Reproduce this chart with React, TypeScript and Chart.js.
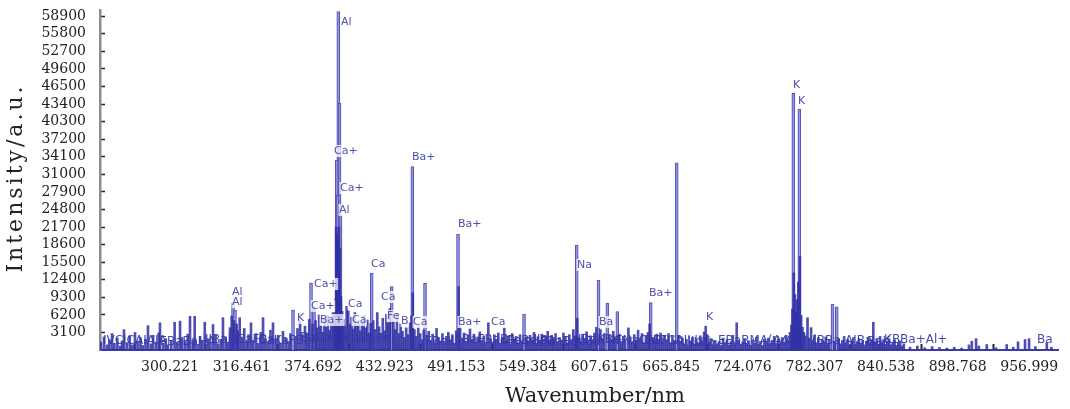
import React, { useEffect, useRef } from "react";
import { Chart, registerables } from "chart.js";

Chart.register(...registerables);

// x axis (nm) tick positions and the tick texts printed in the figure
const xTickValues = [258.23, 316.461, 374.692, 432.923, 491.153, 549.384, 607.615, 665.845, 724.076, 782.307, 840.538, 898.768, 956.999];
const xTickLabels = ["300.221", "316.461", "374.692", "432.923", "491.153", "549.384", "607.615", "665.845", "724.076", "782.307", "840.538", "898.768", "956.999"];
const yTickValues = [3100, 6200, 9300, 12400, 15500, 18600, 21700, 24800, 27900, 31000, 34100, 37200, 40300, 43400, 46500, 49600, 52700, 55800, 58900];

// strong emission lines [wavelength nm, intensity]
const majorLines: [number, number][] = [
  [395.11, 59700], [396.08, 43590], [393.81, 33530], [394.46, 27350], [396.9, 23820],
  [455.29, 32350], [492.46, 20470], [670.33, 33050], [765.16, 45300], [770.04, 42480],
  [589.0, 18530], [422.27, 13590], [465.62, 11770], [606.73, 12350], [372.91, 11820],
  [438.54, 11170], [613.89, 8240], [649.18, 8350], [622.02, 6760], [797.04, 8120],
  [800.46, 7640], [309.47, 8290], [311.09, 7060], [358.27, 7060], [546.14, 6350], [375.35, 7640],
];

// weaker lines, UV part
const minorLinesUV: [number, number][] = [
  [202.0, 1400], [204.5, 2300], [206.8, 900], [208.9, 1800], [211.1, 2900], [213.0, 1200], [215.4, 2100], [217.6, 700],
  [219.2, 1600], [220.8, 3600], [223.1, 1300], [225.5, 2500], [227.4, 900], [229.8, 3100], [231.9, 1500], [234.2, 2200],
  [236.0, 800], [238.3, 1900], [240.3, 4300], [242.6, 1100], [244.5, 2600], [246.9, 1400], [249.0, 3000], [250.1, 4800],
  [252.7, 1200], [254.8, 2000], [256.6, 900], [259.3, 1700], [262.0, 4900], [264.2, 1300], [266.4, 5100], [268.1, 2200],
  [270.4, 1500], [272.6, 2800], [274.5, 5950], [276.8, 1800], [278.3, 5950], [280.6, 1000], [282.7, 2400], [284.5, 1600],
  [286.5, 4900], [288.9, 2000], [291.0, 1300], [293.2, 4500], [295.3, 2600], [297.4, 1100], [299.5, 1900], [301.3, 5700],
  [303.5, 2300], [305.3, 1400], [307.0, 3950], [308.4, 6000], [310.3, 5200], [312.4, 4600], [313.3, 3400], [314.9, 5700],
  [316.8, 2300], [318.6, 3800], [320.5, 1500], [322.1, 2700], [324.1, 4800], [326.0, 1700], [328.2, 2900], [330.1, 1200],
  [332.0, 3100], [333.9, 5700], [335.8, 2000], [337.7, 1400], [339.9, 3500], [342.0, 4800], [344.1, 1900], [346.2, 2600],
  [348.0, 1200], [350.1, 3300], [352.3, 2100], [354.6, 1500], [356.2, 2900], [360.1, 2400], [361.9, 3800], [364.0, 5100],
  [366.0, 2700], [368.0, 4200], [369.8, 3000], [371.5, 5400], [374.1, 4600], [376.6, 5200], [378.0, 3900], [379.5, 6200],
  [381.0, 4400], [382.4, 3100], [383.8, 5600], [385.1, 4000], [386.6, 6100], [388.0, 3500], [389.4, 5000], [390.8, 6600],
  [392.0, 5800], [392.9, 9000],
];

// weaker lines, visible part
const minorLinesVis: [number, number][] = [
  [393.3, 21700], [394.0, 20500], [394.9, 19800], [395.6, 21700], [396.4, 18000], [397.3, 9400], [398.2, 6800], [399.1, 5400],
  [400.3, 4200], [401.9, 7700], [403.2, 6900], [404.5, 4600], [405.9, 5800], [407.2, 3700], [408.6, 6600], [410.0, 4300],
  [411.4, 5200], [412.9, 3400], [414.3, 4900], [415.8, 6100], [417.2, 3900], [418.7, 5300], [420.2, 3000], [421.4, 4700],
  [423.5, 5200], [425.0, 3600], [426.8, 6600], [428.3, 4100], [429.8, 2900], [431.3, 5600], [432.8, 3400], [434.2, 6300],
  [435.7, 4800], [437.0, 7300], [439.9, 5100], [441.3, 3600], [442.8, 6500], [444.3, 2900], [445.8, 4600], [447.3, 3300],
  [448.8, 2200], [450.3, 3900], [451.8, 2700], [453.4, 4800], [454.6, 6000], [455.7, 10100], [457.0, 3600], [458.6, 2400],
  [460.1, 4200], [461.7, 2900], [463.3, 1800], [464.6, 3500], [467.0, 2600], [468.6, 3300], [470.2, 1700], [471.8, 2800],
  [473.4, 1400], [475.0, 3800], [476.6, 2200], [478.2, 1600], [479.8, 2900], [481.4, 1300], [483.0, 2400], [484.6, 3100],
  [486.2, 1800], [487.8, 2700], [489.4, 1200], [491.0, 3400], [492.9, 11200], [494.2, 4100], [495.8, 2100], [497.4, 3000],
  [499.0, 1500], [500.6, 2600], [502.2, 3700], [503.8, 1900], [505.4, 2800], [507.0, 1400], [508.6, 2300], [510.2, 3200],
  [511.8, 1700], [513.4, 2500], [515.0, 1300], [517.1, 4800], [518.8, 2000], [520.4, 1400], [522.0, 2700], [523.6, 1800],
  [525.2, 3000], [526.8, 1200], [528.4, 2200], [530.1, 3950], [531.7, 1600], [533.3, 2500], [534.9, 1100], [536.5, 2900],
  [538.1, 1900], [539.7, 2400], [541.3, 1300], [542.9, 2700], [544.5, 1600], [547.8, 2100], [549.4, 1400], [551.0, 2600],
  [552.6, 1800], [554.2, 3100], [555.8, 1200], [557.4, 2300], [559.0, 1700], [560.6, 2800], [562.2, 1300], [563.8, 2400],
  [565.4, 3300], [567.0, 1500], [568.6, 2600], [570.2, 1900], [571.8, 2900], [573.4, 1400], [575.0, 2200], [576.6, 1700],
  [578.2, 3000], [579.8, 2400], [581.4, 1300], [583.0, 2700], [584.6, 1800], [586.2, 3600], [587.8, 2500], [589.4, 5600],
  [590.6, 2200], [592.2, 1500], [593.8, 2800], [595.4, 1900], [597.0, 3200], [598.6, 1400],
];

// weaker lines, red / near-IR part
const minorLinesIR: [number, number][] = [
  [600.2, 2500], [601.8, 1700], [603.4, 3000], [605.0, 4000], [608.3, 3600], [609.9, 2100], [611.5, 2900], [615.5, 2600],
  [617.1, 1800], [618.7, 3300], [620.3, 2200], [623.6, 2800], [625.2, 1500], [626.8, 2400], [628.4, 1900], [631.0, 3900],
  [632.6, 2300], [634.2, 1400], [635.8, 2700], [637.4, 1700], [638.9, 3500], [640.5, 2000], [642.1, 2900], [643.7, 1300],
  [645.3, 2500], [646.9, 3100], [648.3, 4600], [650.8, 2200], [652.4, 1600], [654.0, 2800], [655.6, 1900], [657.2, 3000],
  [658.8, 1400], [660.4, 2600], [662.0, 1800], [663.6, 2900], [665.2, 1200], [666.8, 2400], [668.4, 1700], [671.8, 2600],
  [673.4, 1500], [675.0, 2100], [676.6, 1100], [678.2, 1900], [679.8, 900], [681.4, 1600], [683.0, 2200], [684.6, 1000],
  [686.2, 1800], [687.8, 1300], [689.4, 2500], [691.0, 1600], [692.6, 3200], [693.9, 4200], [695.2, 2700], [696.8, 1400],
  [698.4, 2000], [700.0, 900], [701.6, 1700], [703.2, 1100], [704.8, 1500], [706.4, 800], [708.0, 2100], [709.6, 1300],
  [711.2, 1800], [712.8, 900], [714.4, 1500], [716.0, 2600], [717.6, 1200], [719.1, 4800], [720.8, 1700], [722.4, 1000],
  [724.0, 1400], [725.6, 2000], [727.2, 1100], [728.8, 1600], [730.4, 900], [732.0, 1800], [733.6, 1200], [735.2, 2300],
  [736.8, 1000], [738.4, 1500], [740.0, 800], [741.6, 1900], [743.2, 1300], [744.8, 2100], [746.4, 1100], [748.0, 1700],
  [749.6, 2400], [751.2, 1200], [752.8, 1900], [754.4, 1000], [756.0, 2200], [757.6, 1400], [759.2, 2600], [760.8, 1800],
  [762.4, 3100], [763.6, 4400], [764.4, 7200], [765.6, 13600], [766.5, 9800], [767.4, 6600], [768.3, 8900], [769.2, 12000],
  [770.5, 16500], [771.5, 6100], [772.6, 4000], [773.8, 3100], [775.0, 2500], [776.7, 5700], [778.0, 2100], [779.6, 3950],
  [781.0, 1700], [782.5, 2600], [784.0, 1300], [785.5, 2200], [787.0, 1100], [788.5, 1900], [790.0, 1400], [791.5, 2300],
  [793.0, 1000], [794.5, 1800], [798.5, 1500], [802.0, 2000], [803.5, 1100], [805.0, 1700], [806.5, 2400], [808.0, 1200],
  [809.5, 1900], [811.0, 900], [812.5, 1600], [814.0, 2200], [815.5, 1000], [817.0, 1500], [818.5, 2000], [820.0, 1200],
  [821.5, 1700], [823.0, 900], [824.5, 1500], [826.0, 2100], [827.5, 1100], [829.0, 1800], [830.2, 4900], [831.5, 1400],
  [833.0, 2000], [834.5, 1000], [835.7, 2400], [837.0, 1300], [838.5, 1800], [840.0, 1000], [841.5, 1500], [843.0, 2000],
  [844.5, 900], [846.0, 1400], [847.5, 1800], [849.0, 800], [850.5, 1300], [852.0, 1600], [853.5, 700], [855.0, 1100],
  [860.0, 500], [866.0, 700], [872.0, 400], [878.0, 600], [884.0, 450], [890.0, 350], [896.0, 500], [902.0, 350],
  [908.0, 900], [910.3, 1550], [913.8, 2000], [916.0, 700], [922.5, 970], [930.0, 400], [938.7, 970], [944.0, 500],
  [947.9, 1450], [953.6, 1850], [956.9, 2000], [962.0, 600], [971.3, 1300], [975.0, 500],
];

// element labels of identified lines [text, nm, intensity]
const peakLabels: [string, number, number][] = [
  ["Al", 397.3, 57880], ["Ca+", 391.6, 35120], ["Ca+", 396.5, 28590], ["Al", 395.7, 24710],
  ["Ba+", 455.05, 34060], ["Ba+", 492.46, 22240], ["Ca", 421.7, 15180], ["Ca+", 375.35, 11650],
  ["Ca+", 372.91, 7760], ["K", 361.5, 5650], ["Ba+", 380.2, 5290], ["Ca", 403.0, 8120],
  ["Ca", 406.2, 5290], ["Ca", 429.8, 9350], ["Fe", 434.7, 6000], ["B", 446.1, 5120],
  ["Ca", 455.9, 4940], ["Al", 308.65, 10240], ["Al", 308.65, 8470], ["Na", 589.24, 15000],
  ["Ba", 607.1, 4940], ["Ba+", 492.46, 4940], ["Ca", 519.3, 4940], ["Ba+", 647.8, 10060],
  ["K", 694.2, 5820], ["K", 764.9, 46760], ["K", 769.0, 43940],
];

// crowded labels along the baseline [text, nm, intensity]
const baselineLabels: [string, number, number][] = [
  ["IVCICAIAIA", 203.7, 1600], ["FBaBaHA", 250.1, 1500], ["IIBaHCaFBa", 286.7, 1700], ["CaKaFBaP", 329.8, 1600],
  ["BaCaBa", 364.0, 2200], ["CaBaFe", 400.6, 1900], ["FBaIIF", 465.6, 1500], ["BaFBaBa", 495.7, 1700],
  ["dFeBdlBa", 526.6, 1600], ["BdBa", 546.0, 1300], ["FBaBdcBa", 559.2, 1500], ["IBaKBa", 590.1, 1700],
  ["IFNaCaIV", 617.7, 1600], ["EEFCAIL", 644.6, 1600], ["I.IIb", 673.0, 1500], ["LIIb", 684.0, 1300],
  ["EBaBMA(A", 703.9, 1600], ["VA", 752.0, 1400], ["(BBa", 780.4, 1600], ["AIBa", 807.2, 1600],
  ["BaK", 825.0, 1400], ["KBBa+Al+", 838.9, 1700], ["Ba", 963.4, 1700],
];

const labelPlugin = {
  id: "peakLabels",
  afterDatasetsDraw(chart: any) {
    const { ctx, chartArea } = chart;
    const xs = chart.scales.x;
    const ys = chart.scales.y;
    ctx.save();
    ctx.textBaseline = "middle";
    ctx.textAlign = "left";
    ctx.font = '12px "DejaVu Sans"';
    for (const [t, nm, v] of baselineLabels) {
      ctx.fillStyle = "rgba(55,55,168,0.92)";
      ctx.fillText(t, xs.getPixelForValue(nm), ys.getPixelForValue(v));
    }
    ctx.font = '11px "DejaVu Sans"';
    for (const [t, nm, v] of peakLabels) {
      const px = xs.getPixelForValue(nm);
      const py = ys.getPixelForValue(v);
      const w = ctx.measureText(t).width;
      ctx.fillStyle = "rgba(255,255,255,0.75)";
      ctx.fillRect(px - 0.5, py - 6, w + 1, 12);
      ctx.fillStyle = "#5050b0";
      ctx.fillText(t, px, py);
    }
    // axis titles
    ctx.fillStyle = "#222";
    ctx.textAlign = "center";
    ctx.font = '21px "DejaVu Serif"';
    ctx.fillText("Wavenumber/nm", 595, 397);
    ctx.translate(16, (chartArea.top + chartArea.bottom) / 2);
    ctx.rotate(-Math.PI / 2);
    (ctx as any).letterSpacing = "3px";
    ctx.font = '22px "DejaVu Serif"';
    ctx.fillText("Intensity/a.u.", 2, 0);
    ctx.restore();
  },
};

export default function App() {
  const ref = useRef<HTMLCanvasElement>(null);
  useEffect(() => {
    document.body.style.margin = "0";
    document.body.style.background = "#fff";
    const toPts = (arr: [number, number][]) => arr.map(([x, y]) => ({ x, y }));
    const chart = new Chart(ref.current as HTMLCanvasElement, {
      type: "bar",
      data: {
        datasets: [
          {
            label: "minor",
            data: toPts([...minorLinesUV, ...minorLinesVis, ...minorLinesIR]),
            backgroundColor: "rgba(48,48,165,0.85)",
            borderWidth: 0,
            barThickness: 2,
            stack: "s",
          },
          {
            label: "major",
            data: toPts(majorLines),
            backgroundColor: "rgba(150,150,218,0.9)",
            borderColor: "rgba(72,72,182,0.95)",
            borderWidth: 1,
            barThickness: 3,
            stack: "s",
          },
        ],
      } as any,
      options: {
        animation: false,
        responsive: false,
        events: [],
        layout: { padding: { left: 0, right: 12, top: 10, bottom: 0 } },
        plugins: { legend: { display: false }, tooltip: { enabled: false } },
        scales: {
          x: {
            type: "linear",
            min: 201.3,
            max: 980.4,
            offset: false,
            afterFit: (s: any) => { s.height = 59; s.paddingLeft = 0; s.paddingRight = 0; },
            afterBuildTicks: (s: any) => { s.ticks = xTickValues.map((v) => ({ value: v })); },
            grid: { drawOnChartArea: false, tickLength: -6, tickColor: "#222", tickWidth: 2 },
            border: { color: "#3b3bae", width: 2 },
            ticks: {
              autoSkip: false,
              maxRotation: 0,
              padding: 15,
              color: "#222",
              font: { family: "DejaVu Serif", size: 14 },
              callback: (_v: any, i: number) => xTickLabels[i],
            },
          },
          y: {
            min: 0,
            max: 60000,
            stacked: false,
            afterFit: (s: any) => { s.width = 100; s.paddingTop = 0; s.paddingBottom = 0; },
            afterBuildTicks: (s: any) => { s.ticks = yTickValues.map((v) => ({ value: v })); },
            grid: { drawOnChartArea: false, tickLength: -5, tickColor: "#222", tickWidth: 1.5 },
            border: { color: "#8c8c8c", width: 2.5 },
            ticks: {
              autoSkip: false,
              padding: 19,
              color: "#222",
              font: { family: "DejaVu Serif", size: 14 },
              callback: (v: any) => String(v),
            },
          },
        },
      } as any,
      plugins: [labelPlugin],
    });
    return () => chart.destroy();
  }, []);
  return (
    <div style={{ width: 1070, height: 409 }}>
      <canvas ref={ref} width={1070} height={409} style={{ display: "block" }} />
    </div>
  );
}
